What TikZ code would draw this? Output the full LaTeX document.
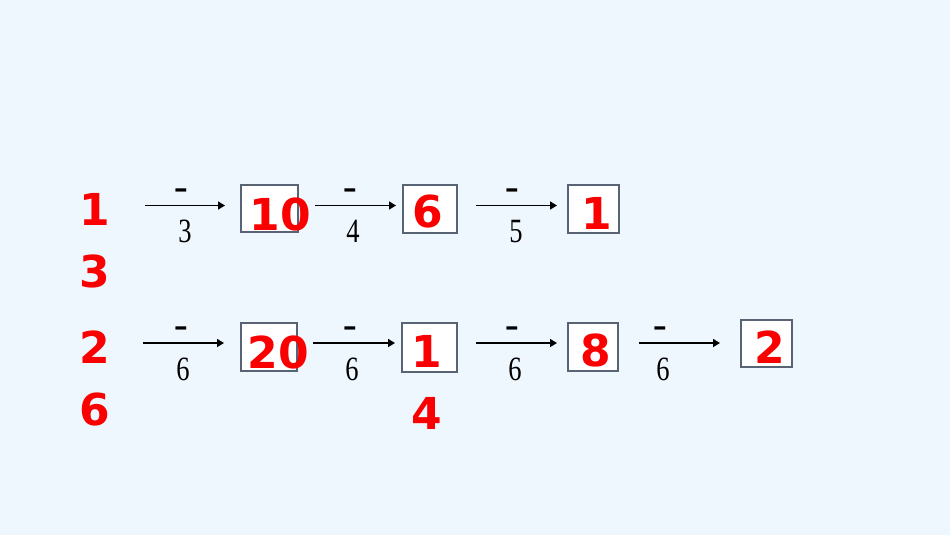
\documentclass[tikz,border=0pt]{standalone}
\usepackage{fontspec}
\usepackage{graphicx}
\setmainfont{Liberation Serif}
\newfontfamily\redfont{DejaVu Sans}
\newfontfamily\barfont{Liberation Sans}
\usetikzlibrary{arrows.meta}
\definecolor{bg}{RGB}{239,247,254}
\definecolor{boxline}{RGB}{88,100,116}
\definecolor{redtxt}{RGB}{250,0,0}
\begin{document}
\begin{tikzpicture}[x=1pt,y=-1pt,
 box/.style={draw=boxline, fill=white, line width=1.2pt, inner sep=0},
 big/.style={font=\redfont\bfseries\fontsize{44}{44}\selectfont, text=redtxt, anchor=base, inner sep=0},
 den/.style={font=\fontsize{34}{34}\selectfont, anchor=base, inner sep=0},
 bar/.style={font=\barfont\bfseries\fontsize{34}{34}\selectfont, anchor=base, inner sep=0},
 arr/.style={-{Triangle[length=7pt,width=8pt]}, line width=1.6pt}]
\fill[bg] (0,0) rectangle (950,535);
\useasboundingbox (0,0) rectangle (950,535);
% boxes
\node[box, minimum width=57, minimum height=47] (b1) at (269.5,208.5) {};
\node[box, minimum width=54, minimum height=48] (b2) at (430,209) {};
\node[box, minimum width=51, minimum height=48] (b3) at (593.5,209) {};
\node[box, minimum width=56, minimum height=48] (c1) at (269,347) {};
\node[box, minimum width=55, minimum height=49] (c2) at (429.5,347.5) {};
\node[box, minimum width=50, minimum height=48] (c3) at (593,347) {};
\node[box, minimum width=51, minimum height=47] (c4) at (766.5,343.5) {};
% arrows row 1
\coordinate (a1s) at (145,205.5); \coordinate (a1e) at (225,205.5);
\coordinate (a2s) at (315,205.5); \coordinate (a2e) at (396,205.5);
\coordinate (a3s) at (476,205.5); \coordinate (a3e) at (557,205.5);
\draw[arr] (a1s) -- (a1e);
\draw[arr] (a2s) -- (a2e);
\draw[arr] (a3s) -- (a3e);
% arrows row 2
\coordinate (d1s) at (143,343); \coordinate (d1e) at (224,343);
\coordinate (d2s) at (313,343); \coordinate (d2e) at (395,343);
\coordinate (d3s) at (476,343); \coordinate (d3e) at (557,343);
\coordinate (d4s) at (639,343); \coordinate (d4e) at (720,343);
\draw[arr] (d1s) -- (d1e);
\draw[arr] (d2s) -- (d2e);
\draw[arr] (d3s) -- (d3e);
\draw[arr] (d4s) -- (d4e);
% bars and denominators row 1
\node[bar] (m1) at (181,197) {\scalebox{1.25}[0.8]{-}};
\node[bar] (m2) at (350,197) {\scalebox{1.25}[0.8]{-}};
\node[bar] (m3) at (512,197) {\scalebox{1.25}[0.8]{-}};
\node[den] (n1) at (185,242) {\scalebox{0.78}[1]{3}};
\node[den] (n2) at (353,242) {\scalebox{0.78}[1]{4}};
\node[den] (n3) at (516,242) {\scalebox{0.78}[1]{5}};
% bars and denominators row 2
\node[bar] (p1) at (181,335) {\scalebox{1.25}[0.8]{-}};
\node[bar] (p2) at (350,335) {\scalebox{1.25}[0.8]{-}};
\node[bar] (p3) at (512,335) {\scalebox{1.25}[0.8]{-}};
\node[bar] (p4) at (660,335) {\scalebox{1.25}[0.8]{-}};
\node[den] (q1) at (183,380) {\scalebox{0.78}[1]{6}};
\node[den] (q2) at (352,380) {\scalebox{0.78}[1]{6}};
\node[den] (q3) at (515,380) {\scalebox{0.78}[1]{6}};
\node[den] (q4) at (663,380) {\scalebox{0.78}[1]{6}};
% red texts row 1
\node[big] (r1a) at (95,225) {1};
\node[big] (r1b) at (95,287) {3};
\node[big] (r1c) at (280,230) {10};
\node[big] (r1d) at (428,227) {6};
\node[big] (r1e) at (597,229) {1};
% red texts row 2
\node[big] (r2a) at (95,363) {2};
\node[big] (r2b) at (95,425) {6};
\node[big] (r2c) at (278,368) {20};
\node[big] (r2d) at (427,367) {1};
\node[big] (r2e) at (427,429) {4};
\node[big] (r2f) at (596,366) {8};
\node[big] (r2g) at (770,363) {2};
\end{tikzpicture}
\end{document}
